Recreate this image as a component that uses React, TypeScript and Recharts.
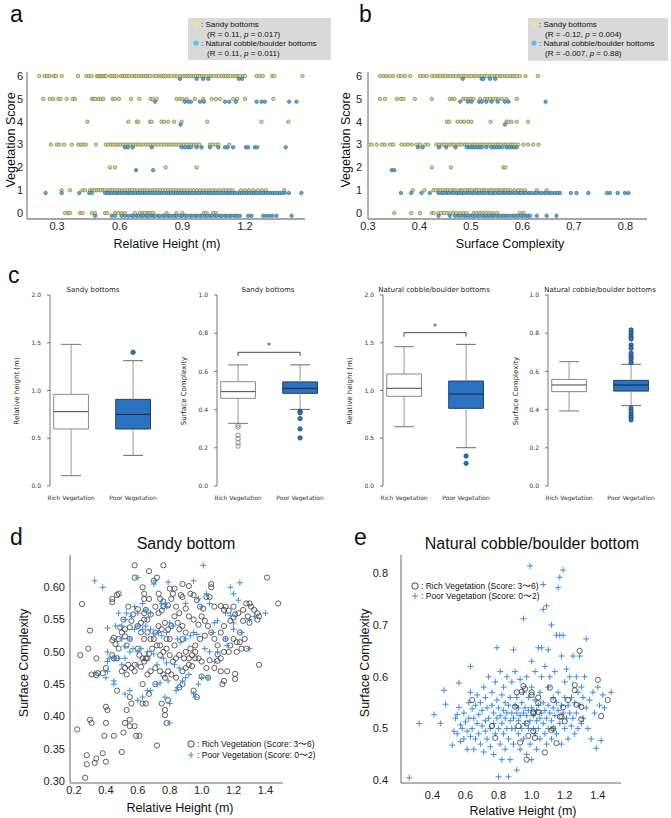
import React from "react";
import { ScatterChart, Scatter, XAxis, YAxis, ReferenceArea, ReferenceLine } from "recharts";

const FONT = "'Liberation Sans', Arial, sans-serif";
const CFONT = "'DejaVu Sans', sans-serif";

// ---------- panel a / b : vegetation score vs substrate metrics ----------
const scores = [0, 1, 2, 3, 4, 5, 6];

// relative height (m) for each vegetation score, index = score
const sandyHeightRows = [
  [0.338, 0.354, 0.362, 0.41, 0.422, 0.466, 0.482, 0.53, 0.54, 0.577, 0.593, 0.609, 0.625, 0.673, 0.697, 0.71, 0.72, 0.735, 0.745, 0.76, 0.824, 0.872, 0.9, 1.003, 1.016, 1.048, 1.06],
  [0.322, 0.362, 0.422, 0.434, 0.458, 0.47, 0.48, 0.492, 0.5, 0.51, 0.52, 0.53, 0.545, 0.556, 0.565, 0.578, 0.59, 0.6, 0.612, 0.625, 0.638, 0.65, 0.66, 0.672, 0.685, 0.698, 0.71, 0.72, 0.732, 0.745, 0.758, 0.77, 0.782, 0.795, 0.808, 0.82, 0.832, 0.845, 0.858, 0.87, 0.885, 0.898, 0.91, 0.925, 0.94, 0.955, 0.97, 0.985, 1.0, 1.015, 1.03, 1.045, 1.06, 1.078, 1.095, 1.11, 1.125, 1.14, 1.18, 1.2, 1.22, 1.24, 1.26, 1.28, 1.3, 1.387],
  [0.553, 0.577, 0.82, 0.968],
  [0.27, 0.298, 0.311, 0.333, 0.37, 0.402, 0.415, 0.426, 0.438, 0.486, 0.534, 0.545, 0.558, 0.569, 0.582, 0.593, 0.604, 0.617, 0.63, 0.641, 0.652, 0.665, 0.678, 0.689, 0.7, 0.713, 0.726, 0.737, 0.748, 0.761, 0.773, 0.785, 0.8, 0.813, 0.824, 0.837, 0.848, 0.86, 0.872, 0.883, 0.896, 0.907, 0.92, 0.933, 0.944, 0.957, 0.968, 0.981, 1.032, 1.045, 1.06, 1.072, 1.124],
  [0.445, 0.641, 0.681, 0.689, 0.745, 0.753, 0.8, 0.812, 0.832, 0.86, 0.896, 1.019, 1.279, 1.407],
  [0.234, 0.266, 0.282, 0.306, 0.317, 0.346, 0.375, 0.386, 0.466, 0.474, 0.482, 0.497, 0.51, 0.521, 0.566, 0.577, 0.596, 0.654, 0.694, 0.748, 0.757, 0.777, 0.872, 0.888, 0.9, 0.92, 0.96, 1.0, 1.04, 1.06, 1.08, 1.143, 1.162, 1.2, 1.335],
  [0.215, 0.24, 0.252, 0.265, 0.285, 0.295, 0.322, 0.4, 0.44, 0.452, 0.465, 0.49, 0.497, 0.505, 0.512, 0.52, 0.527, 0.535, 0.555, 0.565, 0.575, 0.585, 0.605, 0.615, 0.625, 0.635, 0.645, 0.66, 0.672, 0.68, 0.695, 0.705, 0.715, 0.725, 0.735, 0.745, 0.765, 0.775, 0.79, 0.8, 0.81, 0.82, 0.835, 0.845, 0.862, 0.875, 0.89, 0.905, 0.915, 0.925, 0.935, 0.945, 0.955, 0.965, 0.975, 0.985, 0.995, 1.005, 1.015, 1.03, 1.04, 1.05, 1.065, 1.075, 1.09, 1.1, 1.11, 1.12, 1.13, 1.145, 1.155, 1.165, 1.175, 1.19, 1.2, 1.255, 1.27, 1.285, 1.33, 1.34, 1.475],
];
const cobbleHeightRows = [
  [0.482, 0.561, 0.577, 0.609, 0.625, 0.641, 0.657, 0.666, 0.681, 0.689, 0.703, 0.712, 0.727, 0.735, 0.749, 0.761, 0.768, 0.784, 0.792, 0.807, 0.816, 0.831, 0.84, 0.854, 0.866, 0.874, 0.89, 0.899, 0.913, 0.922, 0.937, 0.946, 0.961, 0.97, 0.985, 0.994, 1.009, 1.019, 1.033, 1.042, 1.057, 1.066, 1.081, 1.09, 1.105, 1.114, 1.129, 1.138, 1.153, 1.162, 1.175, 1.215, 1.231, 1.287, 1.3, 1.315, 1.33, 1.35, 1.423],
  [0.245, 0.322, 0.406, 0.454, 0.466, 0.53, 0.541, 0.553, 0.562, 0.575, 0.586, 0.597, 0.609, 0.62, 0.631, 0.643, 0.652, 0.665, 0.676, 0.688, 0.699, 0.71, 0.722, 0.733, 0.744, 0.756, 0.767, 0.778, 0.79, 0.801, 0.812, 0.824, 0.835, 0.846, 0.858, 0.869, 0.88, 0.892, 0.903, 0.914, 0.926, 0.937, 0.948, 0.96, 0.971, 0.982, 0.994, 1.005, 1.016, 1.028, 1.039, 1.05, 1.062, 1.073, 1.084, 1.096, 1.107, 1.118, 1.13, 1.141, 1.152, 1.164, 1.175, 1.186, 1.198, 1.209, 1.22, 1.232, 1.243, 1.254, 1.266, 1.277, 1.288, 1.3, 1.311, 1.322, 1.334, 1.345, 1.356, 1.368, 1.379, 1.39, 1.41, 1.47],
  [0.678, 0.76],
  [0.625, 0.638, 0.662, 0.753, 0.896, 0.912, 0.928, 0.941, 0.968, 0.992, 1.032, 1.072, 1.104, 1.116, 1.143, 1.204, 1.215, 1.247, 1.258, 1.395],
  [0.891],
  [0.769, 0.912, 0.928, 0.941, 0.984, 1.003, 1.104, 1.124, 1.156, 1.255, 1.279, 1.295, 1.411, 1.446],
  [0.888, 0.968, 1.0, 1.024, 1.17, 1.185],
];

// surface complexity for each vegetation score, index = score
const sandyComplexRows = [
  [0.351, 0.384, 0.401, 0.424, 0.428, 0.437, 0.442, 0.448, 0.453, 0.459, 0.466, 0.471, 0.479, 0.485, 0.492, 0.505, 0.511, 0.518, 0.523, 0.529, 0.536, 0.543, 0.551, 0.595, 0.602],
  [0.387, 0.41, 0.427, 0.432, 0.437, 0.441, 0.446, 0.452, 0.455, 0.46, 0.466, 0.469, 0.474, 0.48, 0.483, 0.488, 0.494, 0.498, 0.502, 0.508, 0.511, 0.516, 0.522, 0.526, 0.53, 0.536, 0.54, 0.544, 0.55, 0.554, 0.558, 0.564, 0.567, 0.572, 0.577, 0.585, 0.592, 0.598, 0.605, 0.628, 0.647],
  [0.424, 0.461, 0.563, 0.567],
  [0.301, 0.307, 0.317, 0.327, 0.333, 0.343, 0.349, 0.365, 0.372, 0.378, 0.385, 0.394, 0.401, 0.411, 0.417, 0.433, 0.438, 0.444, 0.448, 0.453, 0.459, 0.463, 0.468, 0.474, 0.478, 0.483, 0.489, 0.493, 0.498, 0.504, 0.508, 0.513, 0.519, 0.523, 0.528, 0.534, 0.538, 0.543, 0.549, 0.553, 0.558, 0.564, 0.568, 0.573, 0.578, 0.582, 0.586, 0.592, 0.602, 0.611, 0.621, 0.631],
  [0.453, 0.458, 0.474, 0.481, 0.487, 0.495, 0.501, 0.538, 0.569, 0.573, 0.579, 0.589, 0.611],
  [0.323, 0.333, 0.356, 0.364, 0.369, 0.391, 0.424, 0.459, 0.464, 0.468, 0.485, 0.49, 0.495, 0.5, 0.505, 0.518, 0.527, 0.532, 0.537, 0.543, 0.548, 0.553, 0.56, 0.569, 0.589],
  [0.323, 0.33, 0.336, 0.342, 0.349, 0.359, 0.365, 0.372, 0.382, 0.401, 0.408, 0.414, 0.424, 0.43, 0.436, 0.44, 0.446, 0.45, 0.456, 0.46, 0.466, 0.471, 0.477, 0.481, 0.487, 0.491, 0.497, 0.501, 0.507, 0.511, 0.517, 0.521, 0.527, 0.531, 0.537, 0.541, 0.547, 0.551, 0.557, 0.561, 0.567, 0.571, 0.577, 0.581, 0.585, 0.589, 0.595, 0.606, 0.63],
];
const cobbleComplexRows = [
  [0.437, 0.459, 0.469, 0.475, 0.48, 0.486, 0.49, 0.495, 0.499, 0.504, 0.508, 0.513, 0.517, 0.523, 0.527, 0.532, 0.536, 0.541, 0.545, 0.551, 0.555, 0.56, 0.564, 0.569, 0.573, 0.579, 0.583, 0.588, 0.592, 0.598, 0.602, 0.607, 0.611, 0.615, 0.628, 0.647, 0.666],
  [0.364, 0.384, 0.404, 0.42, 0.437, 0.443, 0.447, 0.453, 0.457, 0.463, 0.467, 0.473, 0.477, 0.483, 0.487, 0.493, 0.497, 0.503, 0.507, 0.513, 0.517, 0.523, 0.527, 0.533, 0.537, 0.543, 0.547, 0.553, 0.557, 0.563, 0.567, 0.573, 0.577, 0.583, 0.587, 0.593, 0.597, 0.603, 0.607, 0.613, 0.617, 0.623, 0.627, 0.633, 0.637, 0.643, 0.647, 0.653, 0.657, 0.663, 0.668, 0.673, 0.694, 0.705, 0.728, 0.764, 0.77, 0.785, 0.799, 0.806],
  [0.346, 0.351],
  [0.397, 0.406, 0.438, 0.452, 0.47, 0.492, 0.497, 0.502, 0.507, 0.512, 0.517, 0.521, 0.53, 0.54, 0.545, 0.55, 0.555, 0.56, 0.569, 0.574, 0.579, 0.584, 0.589],
  [0.566],
  [0.479, 0.494, 0.501, 0.516, 0.521, 0.53, 0.54, 0.552, 0.566, 0.573, 0.645],
  [0.484, 0.521, 0.524, 0.537, 0.547],
];

// ---------- panel c : box plots ----------
const boxGroups = ["Rich Vegetation", "Poor Vegetation"];
// [min, q1, median, q3, max] per group
const sandyHeightStats = [[0.108, 0.597, 0.778, 0.96, 1.483], [0.321, 0.597, 0.75, 0.907, 1.312]];
const sandyHeightOutliers = [[], [1.4]];
const sandyComplexStats = [[0.328, 0.459, 0.494, 0.546, 0.634], [0.401, 0.485, 0.511, 0.545, 0.634]];
const sandyComplexOutliers = [[0.318, 0.308, 0.266, 0.249, 0.226, 0.209], [0.391, 0.383, 0.353, 0.299, 0.252]];
const cobbleHeightStats = [[0.621, 0.939, 1.023, 1.173, 1.459], [0.401, 0.813, 0.963, 1.099, 1.483]];
const cobbleHeightOutliers = [[], [0.314, 0.237]];
const cobbleComplexStats = [[0.393, 0.494, 0.529, 0.558, 0.651], [0.421, 0.497, 0.529, 0.553, 0.637]];
const cobbleComplexOutliers = [[], [0.817, 0.8, 0.782, 0.77, 0.738, 0.721, 0.695, 0.677, 0.665, 0.647, 0.407, 0.389, 0.372, 0.36, 0.346]];

// ---------- panel d : sandy bottom ----------
const sandyRich = [
  [0.58, 0.634], [0.76, 0.634], [0.67, 0.625], [0.72, 0.615], [0.7, 0.61], [0.58, 0.615], [0.48, 0.59], [0.44, 0.582], [0.44, 0.577], [0.47, 0.588], [0.25, 0.574],
  [0.63, 0.6], [0.73, 0.59], [0.64, 0.59], [0.67, 0.582], [0.64, 0.582], [0.88, 0.605], [0.92, 0.602], [0.8, 0.598], [0.83, 0.598], [0.82, 0.59], [0.81, 0.582],
  [0.74, 0.582], [0.76, 0.578], [0.79, 0.572], [0.87, 0.588], [0.88, 0.585], [0.76, 0.571], [0.71, 0.57], [0.73, 0.56], [0.75, 0.564], [0.65, 0.565], [0.68, 0.558],
  [0.66, 0.55], [0.64, 0.56], [0.6, 0.566], [0.57, 0.558], [0.54, 0.57], [0.56, 0.548], [0.51, 0.55], [0.55, 0.538], [0.52, 0.535], [0.49, 0.538], [0.5, 0.53],
  [0.48, 0.52], [0.52, 0.524], [0.55, 0.52], [0.53, 0.51], [0.46, 0.512], [0.45, 0.522], [0.44, 0.518], [0.45, 0.49], [0.44, 0.495], [0.48, 0.505], [0.47, 0.49],
  [0.38, 0.467], [0.4, 0.475], [0.35, 0.467], [0.34, 0.464], [0.3, 0.533], [0.31, 0.465], [0.34, 0.49], [0.29, 0.505], [0.24, 0.495], [0.22, 0.38], [0.27, 0.305],
  [0.28, 0.326], [0.28, 0.34], [0.3, 0.395], [0.31, 0.39], [0.34, 0.335], [0.33, 0.328], [0.38, 0.343], [0.4, 0.33], [0.39, 0.37], [0.4, 0.39], [0.4, 0.415],
  [0.41, 0.41], [0.45, 0.37], [0.47, 0.44], [0.5, 0.345], [0.51, 0.375], [0.52, 0.39], [0.53, 0.41], [0.55, 0.395], [0.55, 0.385], [0.56, 0.42], [0.55, 0.43],
  [0.58, 0.385], [0.59, 0.37], [0.61, 0.37], [0.63, 0.42], [0.65, 0.42], [0.72, 0.355], [0.78, 0.39], [0.77, 0.402], [0.77, 0.41], [0.79, 0.425], [0.75, 0.42],
  [0.67, 0.435], [0.71, 0.45], [0.63, 0.45], [0.66, 0.465], [0.68, 0.47], [0.71, 0.475], [0.74, 0.47], [0.76, 0.465], [0.77, 0.46], [0.79, 0.47], [0.81, 0.465],
  [0.84, 0.46], [0.86, 0.445], [0.88, 0.45], [0.95, 0.44], [0.97, 0.43], [0.88, 0.47], [0.9, 0.475], [0.92, 0.48], [0.94, 0.478], [0.96, 0.49], [0.98, 0.49],
  [1.0, 0.485], [1.03, 0.475], [1.05, 0.487], [1.08, 0.475], [1.1, 0.486], [1.12, 0.47], [1.13, 0.45], [1.14, 0.455], [1.16, 0.47], [1.21, 0.458], [1.21, 0.466],
  [1.36, 0.48], [1.04, 0.46], [1.0, 0.462], [1.18, 0.51], [1.22, 0.5], [1.25, 0.505], [1.22, 0.515], [1.1, 0.51], [1.08, 0.52], [1.12, 0.53], [1.14, 0.54],
  [1.15, 0.52], [1.18, 0.548], [1.2, 0.553], [1.21, 0.558], [1.23, 0.56], [1.17, 0.564], [1.15, 0.57], [1.2, 0.57], [1.12, 0.571], [1.14, 0.565], [1.08, 0.57],
  [1.05, 0.585], [1.03, 0.585], [1.06, 0.6], [1.06, 0.605], [0.99, 0.57], [1.01, 0.567], [0.97, 0.58], [0.95, 0.588], [0.93, 0.59], [0.9, 0.567], [0.92, 0.555],
  [0.95, 0.55], [0.98, 0.542], [1.0, 0.555], [1.02, 0.548], [1.04, 0.54], [1.06, 0.53], [1.02, 0.525], [0.99, 0.52], [0.96, 0.51], [0.93, 0.505], [0.9, 0.5],
  [0.88, 0.52], [0.86, 0.535], [0.85, 0.545], [0.83, 0.555], [0.81, 0.54], [0.79, 0.535], [0.77, 0.545], [0.75, 0.535], [0.73, 0.54], [0.71, 0.53], [0.7, 0.52],
  [0.72, 0.51], [0.69, 0.505], [0.67, 0.497], [0.65, 0.49], [0.63, 0.49], [0.61, 0.495], [0.6, 0.505], [0.58, 0.48], [0.56, 0.475], [0.54, 0.48], [0.52, 0.475],
  [0.5, 0.47], [0.53, 0.465], [0.58, 0.47], [0.62, 0.477], [0.64, 0.485], [0.66, 0.49], [0.74, 0.495], [0.76, 0.5], [0.78, 0.505], [0.8, 0.495], [0.82, 0.485],
  [0.84, 0.49], [0.86, 0.495], [0.89, 0.49], [0.92, 0.49], [0.94, 0.495], [0.96, 0.5], [0.83, 0.51], [0.8, 0.52], [0.78, 0.52], [0.74, 0.51], [0.68, 0.52],
  [0.66, 0.53], [0.64, 0.52], [0.62, 0.53], [0.6, 0.54], [0.62, 0.545], [0.64, 0.55], [1.3, 0.575], [1.31, 0.57], [1.33, 0.565], [1.35, 0.56], [1.36, 0.555],
  [1.41, 0.615], [1.48, 0.575], [1.28, 0.575], [1.26, 0.565], [1.26, 0.548], [1.29, 0.555], [1.3, 0.545], [1.35, 0.55], [1.24, 0.53], [1.27, 0.52], [1.28, 0.505],
  [1.2, 0.52], [1.17, 0.5], [1.14, 0.5], [1.1, 0.496], [1.12, 0.49], [1.24, 0.515], [0.9, 0.53], [0.88, 0.54], [0.86, 0.56], [0.84, 0.57],
];
const sandyPoor = [
  [0.33, 0.61], [0.6, 0.615], [0.71, 0.61], [0.95, 0.61], [1.01, 0.634], [0.79, 0.608], [0.38, 0.6], [0.7, 0.605], [0.75, 0.575], [0.77, 0.574], [0.78, 0.57],
  [0.9, 0.575], [0.98, 0.582], [1.0, 0.57], [1.03, 0.59], [1.05, 0.575], [1.18, 0.6], [1.2, 0.59], [1.24, 0.607], [1.23, 0.58], [1.15, 0.56], [1.18, 0.556],
  [1.1, 0.548], [1.08, 0.545], [1.2, 0.545], [1.2, 0.535], [1.3, 0.505], [1.4, 0.56], [1.3, 0.55], [1.33, 0.555], [1.25, 0.53], [1.15, 0.52], [1.16, 0.51],
  [1.07, 0.53], [1.05, 0.5], [1.02, 0.505], [1.1, 0.5], [1.08, 0.485], [1.04, 0.46], [1.0, 0.46], [0.95, 0.435], [0.96, 0.43], [0.98, 0.45], [0.88, 0.455],
  [0.84, 0.44], [0.85, 0.445], [0.8, 0.39], [0.8, 0.42], [0.77, 0.43], [0.72, 0.45], [0.68, 0.44], [0.66, 0.44], [0.63, 0.43], [0.6, 0.425], [0.52, 0.435],
  [0.55, 0.44], [0.45, 0.45], [0.45, 0.455], [0.4, 0.46], [0.33, 0.467], [0.41, 0.5], [0.42, 0.49], [0.45, 0.49], [0.41, 0.47], [0.41, 0.485], [0.48, 0.49],
  [0.5, 0.48], [0.52, 0.49], [0.55, 0.5], [0.57, 0.505], [0.6, 0.5], [0.62, 0.505], [0.66, 0.5], [0.7, 0.497], [0.72, 0.48], [0.76, 0.49], [0.78, 0.483],
  [0.83, 0.48], [0.86, 0.475], [0.9, 0.46], [0.92, 0.465], [0.41, 0.537], [0.46, 0.54], [0.5, 0.54], [0.52, 0.55], [0.53, 0.56], [0.56, 0.555], [0.58, 0.535],
  [0.6, 0.54], [0.63, 0.535], [0.65, 0.54], [0.68, 0.535], [0.7, 0.528], [0.73, 0.53], [0.75, 0.525], [0.78, 0.53], [0.8, 0.545], [0.82, 0.54], [0.85, 0.52],
  [0.87, 0.515], [0.9, 0.52], [0.93, 0.525], [0.95, 0.53], [0.97, 0.527], [0.5, 0.52], [0.55, 0.52], [0.6, 0.56], [0.65, 0.565], [0.52, 0.508], [0.74, 0.452],
  [0.79, 0.455], [0.6, 0.48], [0.48, 0.56], [0.58, 0.57], [0.63, 0.575], [0.68, 0.56],
];

// ---------- panel e : natural cobble/boulder bottom ----------
const cobbleRich = [
  [0.64, 0.555], [0.76, 0.505], [0.78, 0.482], [0.9, 0.542], [0.91, 0.57], [0.94, 0.571], [0.95, 0.582], [0.96, 0.577], [0.92, 0.505], [0.93, 0.473], [0.97, 0.51],
  [0.97, 0.44], [0.98, 0.486], [1.0, 0.57], [1.0, 0.565], [1.01, 0.532], [1.01, 0.529], [1.01, 0.495], [1.02, 0.482], [1.04, 0.549], [1.04, 0.56], [1.04, 0.532],
  [1.08, 0.454], [1.11, 0.579], [1.12, 0.497], [1.13, 0.5], [1.13, 0.555], [1.15, 0.472], [1.17, 0.523], [1.18, 0.523], [1.19, 0.541], [1.2, 0.514], [1.22, 0.555],
  [1.26, 0.584], [1.26, 0.574], [1.27, 0.546], [1.29, 0.65], [1.3, 0.542], [1.3, 0.518], [1.4, 0.594], [1.42, 0.524], [1.46, 0.555],
];
const cobblePoor = [
  [0.26, 0.405], [0.32, 0.51], [0.41, 0.527], [0.45, 0.51], [0.47, 0.574], [0.48, 0.547], [0.52, 0.468], [0.53, 0.495], [0.54, 0.52], [0.55, 0.527], [0.55, 0.49],
  [0.56, 0.588], [0.56, 0.541], [0.57, 0.507], [0.57, 0.475], [0.58, 0.5], [0.59, 0.48], [0.59, 0.53], [0.6, 0.513], [0.61, 0.46], [0.61, 0.495], [0.62, 0.55],
  [0.62, 0.52], [0.63, 0.62], [0.63, 0.57], [0.63, 0.485], [0.64, 0.5], [0.64, 0.538], [0.65, 0.46], [0.65, 0.52], [0.66, 0.48], [0.66, 0.545], [0.67, 0.51],
  [0.67, 0.565], [0.68, 0.49], [0.68, 0.527], [0.69, 0.47], [0.69, 0.55], [0.7, 0.505], [0.7, 0.535], [0.71, 0.455], [0.71, 0.58], [0.72, 0.515], [0.72, 0.495],
  [0.72, 0.56], [0.73, 0.48], [0.73, 0.54], [0.74, 0.52], [0.74, 0.6], [0.75, 0.465], [0.75, 0.5], [0.76, 0.545], [0.76, 0.57], [0.77, 0.45], [0.77, 0.51],
  [0.77, 0.53], [0.78, 0.49], [0.78, 0.59], [0.79, 0.656], [0.79, 0.52], [0.79, 0.555], [0.8, 0.407], [0.8, 0.5], [0.8, 0.54], [0.81, 0.47], [0.81, 0.61],
  [0.81, 0.525], [0.82, 0.44], [0.82, 0.51], [0.82, 0.565], [0.83, 0.49], [0.83, 0.535], [0.83, 0.58], [0.84, 0.46], [0.84, 0.52], [0.84, 0.55], [0.85, 0.5],
  [0.85, 0.6], [0.85, 0.53], [0.86, 0.407], [0.86, 0.48], [0.86, 0.545], [0.87, 0.515], [0.87, 0.56], [0.87, 0.44], [0.88, 0.5], [0.88, 0.53], [0.88, 0.59],
  [0.89, 0.652], [0.89, 0.47], [0.89, 0.52], [0.9, 0.545], [0.9, 0.5], [0.9, 0.61], [0.91, 0.42], [0.91, 0.53], [0.91, 0.56], [0.92, 0.49], [0.92, 0.515],
  [0.92, 0.54], [0.93, 0.46], [0.93, 0.525], [0.93, 0.595], [0.94, 0.5], [0.94, 0.55], [0.95, 0.712], [0.95, 0.53], [0.95, 0.48], [0.95, 0.57], [0.96, 0.51],
  [0.96, 0.54], [0.97, 0.45], [0.97, 0.6], [0.97, 0.525], [0.98, 0.5], [0.98, 0.56], [0.98, 0.535], [0.99, 0.814], [0.99, 0.47], [0.99, 0.515], [1.0, 0.44],
  [1.0, 0.54], [1.0, 0.58], [1.0, 0.63], [1.01, 0.5], [1.01, 0.525], [1.02, 0.555], [1.02, 0.49], [1.02, 0.61], [1.03, 0.515], [1.03, 0.535], [1.03, 0.46],
  [1.04, 0.656], [1.04, 0.5], [1.04, 0.545], [1.05, 0.57], [1.05, 0.52], [1.05, 0.48], [1.06, 0.656], [1.06, 0.53], [1.06, 0.6], [1.07, 0.778], [1.07, 0.73],
  [1.07, 0.51], [1.07, 0.55], [1.08, 0.49], [1.08, 0.535], [1.08, 0.62], [1.09, 0.737], [1.09, 0.52], [1.09, 0.47], [1.1, 0.652], [1.1, 0.545], [1.1, 0.5],
  [1.1, 0.58], [1.11, 0.53], [1.11, 0.6], [1.12, 0.7], [1.12, 0.515], [1.12, 0.48], [1.13, 0.54], [1.13, 0.56], [1.13, 0.5], [1.14, 0.525], [1.14, 0.61],
  [1.15, 0.68], [1.15, 0.55], [1.15, 0.49], [1.16, 0.772], [1.16, 0.535], [1.16, 0.57], [1.17, 0.792], [1.17, 0.68], [1.17, 0.51], [1.18, 0.64], [1.18, 0.545],
  [1.18, 0.47], [1.19, 0.806], [1.19, 0.68], [1.19, 0.53], [1.2, 0.59], [1.2, 0.56], [1.2, 0.5], [1.21, 0.615], [1.21, 0.52], [1.22, 0.545], [1.22, 0.48],
  [1.23, 0.6], [1.23, 0.53], [1.24, 0.505], [1.24, 0.56], [1.25, 0.64], [1.25, 0.52], [1.26, 0.49], [1.26, 0.55], [1.27, 0.6], [1.27, 0.53], [1.28, 0.57],
  [1.28, 0.5], [1.29, 0.64], [1.29, 0.545], [1.3, 0.51], [1.3, 0.58], [1.31, 0.56], [1.31, 0.52], [1.32, 0.6], [1.33, 0.673], [1.33, 0.54], [1.34, 0.5],
  [1.35, 0.555], [1.36, 0.48], [1.37, 0.57], [1.38, 0.53], [1.39, 0.462], [1.4, 0.58], [1.41, 0.545], [1.42, 0.477], [1.43, 0.565], [1.44, 0.54], [1.48, 0.57],
];

const rowsToPoints = (rows: number[][], shift: number) =>
  rows.flatMap((row, i) => row.map((x) => ({ x, y: scores[i] + shift })));
const pairsToPoints = (pairs: number[][]) => pairs.map(([x, y]) => ({ x, y }));

const dotShape = (fill: string, stroke: string) => (p: any) =>
  <circle cx={p.cx} cy={p.cy} r={1.75} fill={fill} stroke={stroke} strokeWidth={0.6} />;
const ringShape = (r: number, stroke: string) => (p: any) =>
  <circle cx={p.cx} cy={p.cy} r={r} fill="none" stroke={stroke} strokeWidth={0.8} />;
const crossShape = (p: any) => (
  <path d={`M${p.cx - 3},${p.cy}H${p.cx + 3}M${p.cx},${p.cy - 3}V${p.cy + 3}`} stroke="#3d8ee0" strokeWidth={1} />
);

const tickStyle = { fontSize: 11, fill: "#222", fontFamily: FONT };

function ScorePanel({ left, sandy, cobble, xDomain, xTicks, yWidth, right }: any) {
  return (
    <div style={{ position: "absolute", left, top: 0 }}>
      <ScatterChart width={335} height={260} margin={{ top: 72, right, bottom: 10, left: 0 }}>
        <XAxis type="number" dataKey="x" domain={xDomain} ticks={xTicks} allowDataOverflow interval={0}
          tickFormatter={(v: number) => v.toFixed(1)} height={31} tickLine={false} tickSize={0} tickMargin={3}
          axisLine={{ stroke: "#8a8a8a", strokeWidth: 1.3 }} tick={tickStyle} />
        <YAxis type="number" dataKey="y" domain={[-0.26, 6.18]} ticks={scores} allowDataOverflow interval={0}
          width={yWidth} tickLine={false} tickSize={0} tickMargin={yWidth === 27 ? 4 : 6}
          axisLine={{ stroke: "#8a8a8a", strokeWidth: 1.3 }} tick={tickStyle} />
        <Scatter data={rowsToPoints(sandy, 0)} shape={dotShape("#dcd98a", "#6e6c4a")} isAnimationActive={false} />
        <Scatter data={rowsToPoints(cobble, -0.12)} shape={dotShape("#58acd6", "#2f5e7e")} isAnimationActive={false} />
      </ScatterChart>
    </div>
  );
}

function BoxPanel({ left, stats, outliers, yMax, yTicks, bracket }: any) {
  const poorFill = "#2b72c0";
  const poorEdge = "#1e3f66";
  return (
    <div style={{ position: "absolute", left, top: 285 }}>
      <ScatterChart width={165} height={225} margin={{ top: 10, right: 4, bottom: 4, left: 0 }}>
        <XAxis type="number" dataKey="x" domain={[0.66, 2.45]} ticks={[1, 2]} allowDataOverflow interval={0}
          tickFormatter={(v: number) => boxGroups[v - 1]} height={20} axisLine={false} tickLine={false} tickMargin={4}
          tick={{ fontSize: 6, fill: "#333", fontFamily: CFONT }} />
        <YAxis type="number" dataKey="y" domain={[0, yMax]} ticks={yTicks} allowDataOverflow interval={0}
          tickFormatter={(v: number) => v.toFixed(1)} width={50} tickSize={3} tickMargin={6}
          axisLine={{ stroke: "#555", strokeWidth: 0.8 }} tickLine={{ stroke: "#555", strokeWidth: 0.8 }}
          tick={{ fontSize: 6, fill: "#333", fontFamily: CFONT }} />
        {stats.map((s: number[], i: number) => {
          const pos = i + 1;
          const poor = i === 1;
          return (
            <React.Fragment key={i}>
              <ReferenceLine segment={[{ x: pos, y: s[3] }, { x: pos, y: s[4] }]} stroke="#999" strokeWidth={1} ifOverflow="visible" />
              <ReferenceLine segment={[{ x: pos, y: s[0] }, { x: pos, y: s[1] }]} stroke="#999" strokeWidth={1} ifOverflow="visible" />
              <ReferenceLine segment={[{ x: pos - 0.16, y: s[4] }, { x: pos + 0.16, y: s[4] }]} stroke={poor ? "#666" : "#777"} strokeWidth={1} ifOverflow="visible" />
              <ReferenceLine segment={[{ x: pos - 0.16, y: s[0] }, { x: pos + 0.16, y: s[0] }]} stroke={poor ? "#666" : "#777"} strokeWidth={1} ifOverflow="visible" />
              <ReferenceArea x1={pos - 0.28} x2={pos + 0.28} y1={s[1]} y2={s[3]} fill={poor ? poorFill : "#fff"} fillOpacity={1}
                stroke={poor ? poorEdge : "#888"} strokeWidth={1} ifOverflow="visible" />
              <ReferenceLine segment={[{ x: pos - 0.28, y: s[2] }, { x: pos + 0.28, y: s[2] }]} stroke={poor ? "#13263d" : "#444"} strokeWidth={1} ifOverflow="visible" />
            </React.Fragment>
          );
        })}
        {bracket && (
          <>
            <ReferenceLine segment={[{ x: 1, y: bracket[0] }, { x: 2, y: bracket[0] }]} stroke="#333" strokeWidth={0.9} ifOverflow="visible" />
            <ReferenceLine segment={[{ x: 1, y: bracket[1] }, { x: 1, y: bracket[0] }]} stroke="#333" strokeWidth={0.9} ifOverflow="visible" />
            <ReferenceLine segment={[{ x: 2, y: bracket[1] }, { x: 2, y: bracket[0] }]} stroke="#333" strokeWidth={0.9} ifOverflow="visible" />
            <Scatter data={[{ x: 1.5, y: bracket[2] }]} isAnimationActive={false}
              shape={(p: any) => <text x={p.cx} y={p.cy + 3} textAnchor="middle" fontSize={8} fill="#333" fontFamily={CFONT}>*</text>} />
          </>
        )}
        <Scatter data={outliers[0].map((y: number) => ({ x: 1, y }))} isAnimationActive={false} shape={ringShape(2.2, "#777")} />
        <Scatter data={outliers[1].map((y: number) => ({ x: 2, y }))} isAnimationActive={false}
          shape={(p: any) => <circle cx={p.cx} cy={p.cy} r={2.2} fill={poorFill} stroke={poorEdge} strokeWidth={0.7} />} />
      </ScatterChart>
    </div>
  );
}

function HabitatPanel({ left, width, yWidth, xDomain, xTicks, yDomain, yTicks, yDigits, xMargin, yMargin, rich, poor, richOnTop }: any) {
  const richSeries = <Scatter key="rich" data={pairsToPoints(rich)} shape={ringShape(2.6, "#3a3a3a")} isAnimationActive={false} />;
  const poorSeries = <Scatter key="poor" data={pairsToPoints(poor)} shape={crossShape} isAnimationActive={false} />;
  return (
    <div style={{ position: "absolute", left, top: 550 }}>
      <ScatterChart width={width} height={263} margin={{ top: 5, right: 10, bottom: 10, left: 0 }}>
        <XAxis type="number" dataKey="x" domain={xDomain} ticks={xTicks} allowDataOverflow interval={0}
          tickFormatter={(v: number) => v.toFixed(1)} height={20} tickLine={false} tickSize={0} tickMargin={xMargin}
          axisLine={{ stroke: "#666", strokeWidth: 1 }} tick={tickStyle} />
        <YAxis type="number" dataKey="y" domain={yDomain} ticks={yTicks} allowDataOverflow interval={0}
          tickFormatter={(v: number) => v.toFixed(yDigits)} width={yWidth} tickLine={false} tickSize={0} tickMargin={yMargin}
          axisLine={{ stroke: "#666", strokeWidth: 1 }} tick={tickStyle} />
        {richOnTop ? [poorSeries, richSeries] : [richSeries, poorSeries]}
      </ScatterChart>
    </div>
  );
}

export default function App() {
  const txt = { fontFamily: FONT, fill: "#111" } as const;
  const ctxt = { fontFamily: CFONT, fill: "#222" } as const;
  return (
    <div style={{ position: "absolute", left: 0, top: 0, width: 671, height: 818, background: "#fff", overflow: "hidden" }}>
      <ScorePanel left={0} sandy={sandyHeightRows} cobble={cobbleHeightRows} xDomain={[0.156, 1.487]} xTicks={[0.3, 0.6, 0.9, 1.2]} yWidth={27} right={30} />
      <ScorePanel left={335} sandy={sandyComplexRows} cobble={cobbleComplexRows} xDomain={[0.3, 0.842]} xTicks={[0.3, 0.4, 0.5, 0.6, 0.7, 0.8]} yWidth={33} right={23} />

      <BoxPanel left={0} stats={sandyHeightStats} outliers={sandyHeightOutliers} yMax={2} yTicks={[0, 0.5, 1, 1.5, 2]} />
      <BoxPanel left={167} stats={sandyComplexStats} outliers={sandyComplexOutliers} yMax={1} yTicks={[0, 0.2, 0.4, 0.6, 0.8, 1]} bracket={[0.7, 0.681, 0.733]} />
      <BoxPanel left={333} stats={cobbleHeightStats} outliers={cobbleHeightOutliers} yMax={2} yTicks={[0, 0.5, 1, 1.5, 2]} bracket={[1.606, 1.564, 1.668]} />
      <BoxPanel left={498} stats={cobbleComplexStats} outliers={cobbleComplexOutliers} yMax={1} yTicks={[0, 0.2, 0.4, 0.6, 0.8, 1]} />

      <HabitatPanel left={0} width={293} yWidth={70} xDomain={[0.175, 1.51]} xTicks={[0.2, 0.4, 0.6, 0.8, 1.0, 1.2, 1.4]}
        yDomain={[0.297, 0.65]} yTicks={[0.3, 0.35, 0.4, 0.45, 0.5, 0.55, 0.6]} yDigits={2} xMargin={3} yMargin={5}
        rich={sandyRich} poor={sandyPoor} richOnTop={false} />
      <HabitatPanel left={341} width={290} yWidth={60} xDomain={[0.21, 1.54]} xTicks={[0.4, 0.6, 0.8, 1.0, 1.2, 1.4]}
        yDomain={[0.395, 0.835]} yTicks={[0.4, 0.5, 0.6, 0.7, 0.8]} yDigits={1} xMargin={8} yMargin={13}
        rich={cobbleRich} poor={cobblePoor} richOnTop={true} />

      <svg width={671} height={818} style={{ position: "absolute", left: 0, top: 0, pointerEvents: "none" }}>
        {/* panel letters */}
        <text x={10} y={22} fontSize={23} {...txt}>a</text>
        <text x={359} y={22} fontSize={23} {...txt}>b</text>
        <text x={8} y={283} fontSize={23} {...txt}>c</text>
        <text x={10} y={545} fontSize={23} {...txt}>d</text>
        <text x={354} y={545} fontSize={23} {...txt}>e</text>

        {/* a / b legends */}
        <rect x={188} y={18} width={143} height={42} fill="#d9d9d9" />
        <circle cx={196} cy={24} r={2.6} fill="#efe68a" />
        <circle cx={196} cy={43} r={2.6} fill="#5cc2ec" />
        <text x={201} y={27} fontSize={8} {...txt}>: Sandy bottoms</text>
        <text x={207} y={37} fontSize={8} {...txt}>(R = 0.11, <tspan fontStyle="italic">p</tspan> = 0.017)</text>
        <text x={201} y={46} fontSize={8} {...txt}>: Natural cobble/boulder bottoms</text>
        <text x={207} y={56} fontSize={8} {...txt}>(R = 0.11, <tspan fontStyle="italic">p</tspan> = 0.011)</text>

        <rect x={528} y={18} width={140} height={43} fill="#d9d9d9" />
        <circle cx={534} cy={24} r={2.6} fill="#efe68a" />
        <circle cx={534} cy={43} r={2.6} fill="#5cc2ec" />
        <text x={539} y={27} fontSize={8} {...txt}>: Sandy bottoms</text>
        <text x={545} y={37} fontSize={8} {...txt}>(R = -0.12, <tspan fontStyle="italic">p</tspan> = 0.004)</text>
        <text x={539} y={46} fontSize={8} {...txt}>: Natural cobble/boulder bottoms</text>
        <text x={545} y={56} fontSize={8} {...txt}>(R = -0.007, <tspan fontStyle="italic">p</tspan> = 0.88)</text>

        {/* a / b axis titles */}
        <text x={167} y={248} fontSize={12.5} textAnchor="middle" {...txt}>Relative Height (m)</text>
        <text x={510} y={248} fontSize={12.5} textAnchor="middle" {...txt}>Surface Complexity</text>
        <text transform="translate(15,140) rotate(-90)" fontSize={12.5} textAnchor="middle" {...txt}>Vegetation Score</text>
        <text transform="translate(350,140) rotate(-90)" fontSize={12.5} textAnchor="middle" {...txt}>Vegetation Score</text>

        {/* c titles and y labels */}
        <text x={93} y={292} fontSize={7} textAnchor="middle" {...ctxt}>Sandy bottoms</text>
        <text x={268} y={292} fontSize={7} textAnchor="middle" {...ctxt}>Sandy bottoms</text>
        <text x={434} y={292} fontSize={7} textAnchor="middle" {...ctxt}>Natural cobble/boulder bottoms</text>
        <text x={600} y={292} fontSize={7} textAnchor="middle" {...ctxt}>Natural cobble/boulder bottoms</text>
        <text transform="translate(19,391) rotate(-90)" fontSize={7} textAnchor="middle" {...ctxt}>Relative height (m)</text>
        <text transform="translate(186,391) rotate(-90)" fontSize={7} textAnchor="middle" {...ctxt}>Surface Complexity</text>
        <text transform="translate(352,391) rotate(-90)" fontSize={7} textAnchor="middle" {...ctxt}>Relative height (m)</text>
        <text transform="translate(518,391) rotate(-90)" fontSize={7} textAnchor="middle" {...ctxt}>Surface Complexity</text>

        {/* d / e titles, axis titles, legends */}
        <text x={186} y={549} fontSize={16} textAnchor="middle" {...txt}>Sandy bottom</text>
        <text x={532} y={549} fontSize={16} textAnchor="middle" {...txt}>Natural cobble/boulder bottom</text>
        <text x={180} y={812} fontSize={12.5} textAnchor="middle" {...txt}>Relative Height (m)</text>
        <text x={523} y={815} fontSize={12.5} textAnchor="middle" {...txt}>Relative Height (m)</text>
        <text transform="translate(28,663) rotate(-90)" fontSize={12.5} textAnchor="middle" {...txt}>Surface Complexity</text>
        <text transform="translate(369,663) rotate(-90)" fontSize={12.5} textAnchor="middle" {...txt}>Surface Complexity</text>

        <circle cx={191} cy={744} r={3.2} fill="none" stroke="#333" strokeWidth={0.9} />
        <path d="M188,755H194M191,752V758" stroke="#3d8ee0" strokeWidth={1} />
        <text x={197} y={747} fontSize={8.5} {...txt}>: Rich Vegetation (Score: 3〜6)</text>
        <text x={197} y={758} fontSize={8.5} {...txt}>: Poor Vegetation (Score: 0〜2)</text>

        <circle cx={415} cy={586} r={3.2} fill="none" stroke="#333" strokeWidth={0.9} />
        <path d="M412,596H418M415,593V599" stroke="#3d8ee0" strokeWidth={1} />
        <text x={421} y={589} fontSize={8.5} {...txt}>: Rich Vegetation (Score: 3〜6)</text>
        <text x={421} y={599} fontSize={8.5} {...txt}>: Poor Vegetation (Score: 0〜2)</text>
      </svg>
    </div>
  );
}
